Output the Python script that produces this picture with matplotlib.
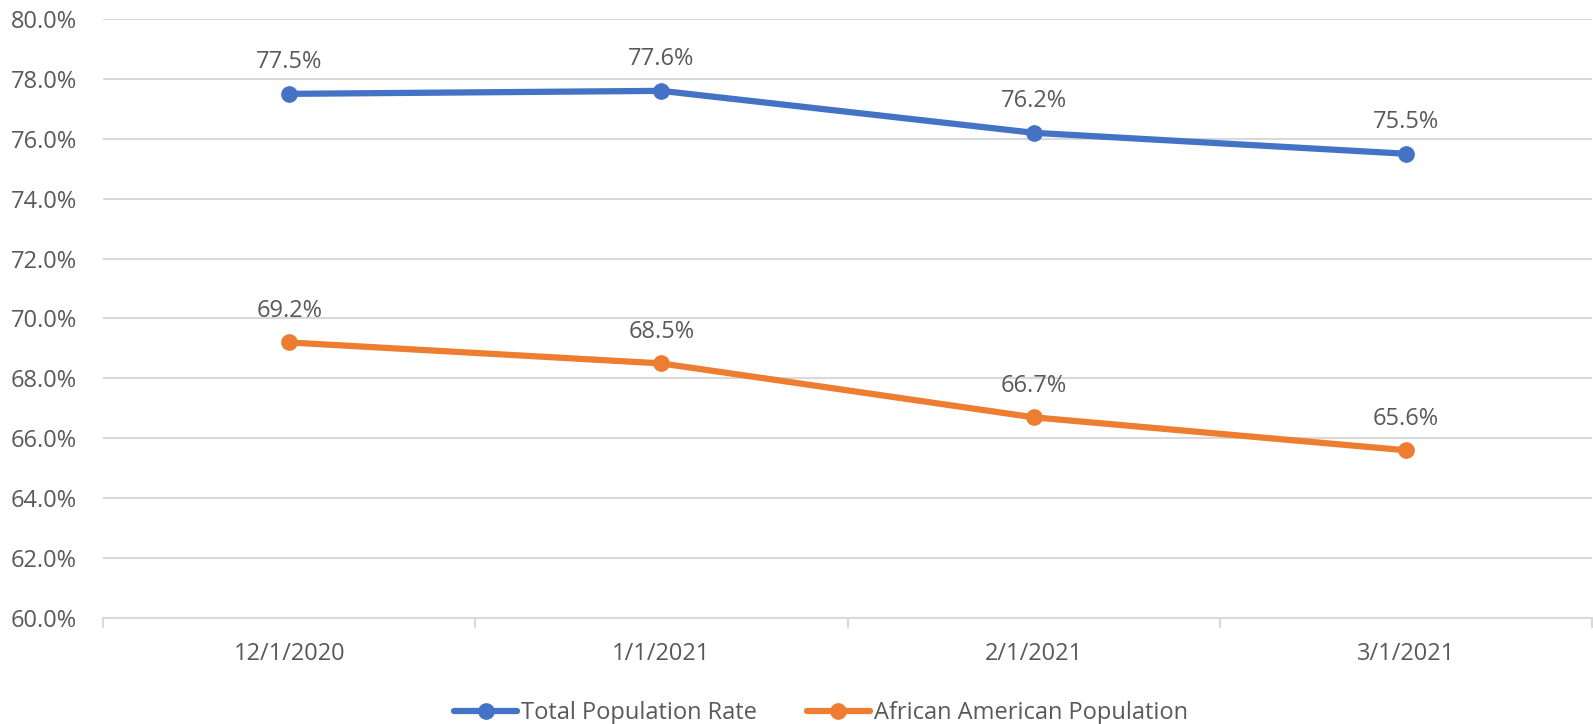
import matplotlib
matplotlib.use("Agg")
import matplotlib.pyplot as plt
from matplotlib.ticker import FuncFormatter

matplotlib.rcParams["font.family"] = ["Open Sans", "DejaVu Sans"]

dates = ["12/1/2020", "1/1/2021", "2/1/2021", "3/1/2021"]
total_rate = [77.5, 77.6, 76.2, 75.5]
african_american = [69.2, 68.5, 66.7, 65.6]

BLUE = "#4472C4"
ORANGE = "#ED7D31"
GRID = "#D9D9D9"
TXT = "#595959"
FS = 17

fig = plt.figure(figsize=(15.93, 7.24), dpi=100)
ax = fig.add_axes([0.0647, 0.1464, 0.9347, 0.8274])

x = range(len(dates))
ax.plot(x, total_rate, "-o", color=BLUE, lw=4.5, ms=11, label="Total Population Rate",
        zorder=3, solid_capstyle="round")
ax.plot(x, african_american, "-o", color=ORANGE, lw=4.5, ms=11, label="African American Population",
        zorder=3, solid_capstyle="round")

for series in (total_rate, african_american):
    for xi, v in zip(x, series):
        ax.annotate(f"{v:.1f}%", (xi, v), xytext=(0, 18.5), textcoords="offset points",
                    ha="center", va="baseline", fontsize=FS, color=TXT)

ax.set_xlim(-0.5, len(dates) - 0.5)
ax.set_ylim(60, 80)
ax.set_yticks(range(60, 81, 2))
ax.yaxis.set_major_formatter(FuncFormatter(lambda v, p: f"{v:.1f}%"))
ax.set_xticks(list(x))
ax.set_xticklabels(dates)
ax.set_xticks([i + 0.5 for i in range(-1, len(dates))], minor=True)

ax.grid(axis="y", color=GRID, lw=1.5)
ax.set_axisbelow(True)
for s in ["top", "right", "left"]:
    ax.spines[s].set_visible(False)
ax.spines["bottom"].set_color(GRID)
ax.spines["bottom"].set_linewidth(1.5)

ax.tick_params(axis="y", length=0, labelsize=FS, labelcolor=TXT, pad=19)
ax.tick_params(axis="x", which="major", length=0, labelsize=FS, labelcolor=TXT, pad=17)
ax.tick_params(axis="x", which="minor", length=7, color=GRID, width=1.5)

ax.legend(loc="center", bbox_to_anchor=(0.482, -0.159), ncol=2, frameon=False,
          fontsize=FS, labelcolor=TXT, handlelength=2.7, handletextpad=0.15,
          columnspacing=2.1, borderpad=0)

fig.savefig("out.png", dpi=100)
